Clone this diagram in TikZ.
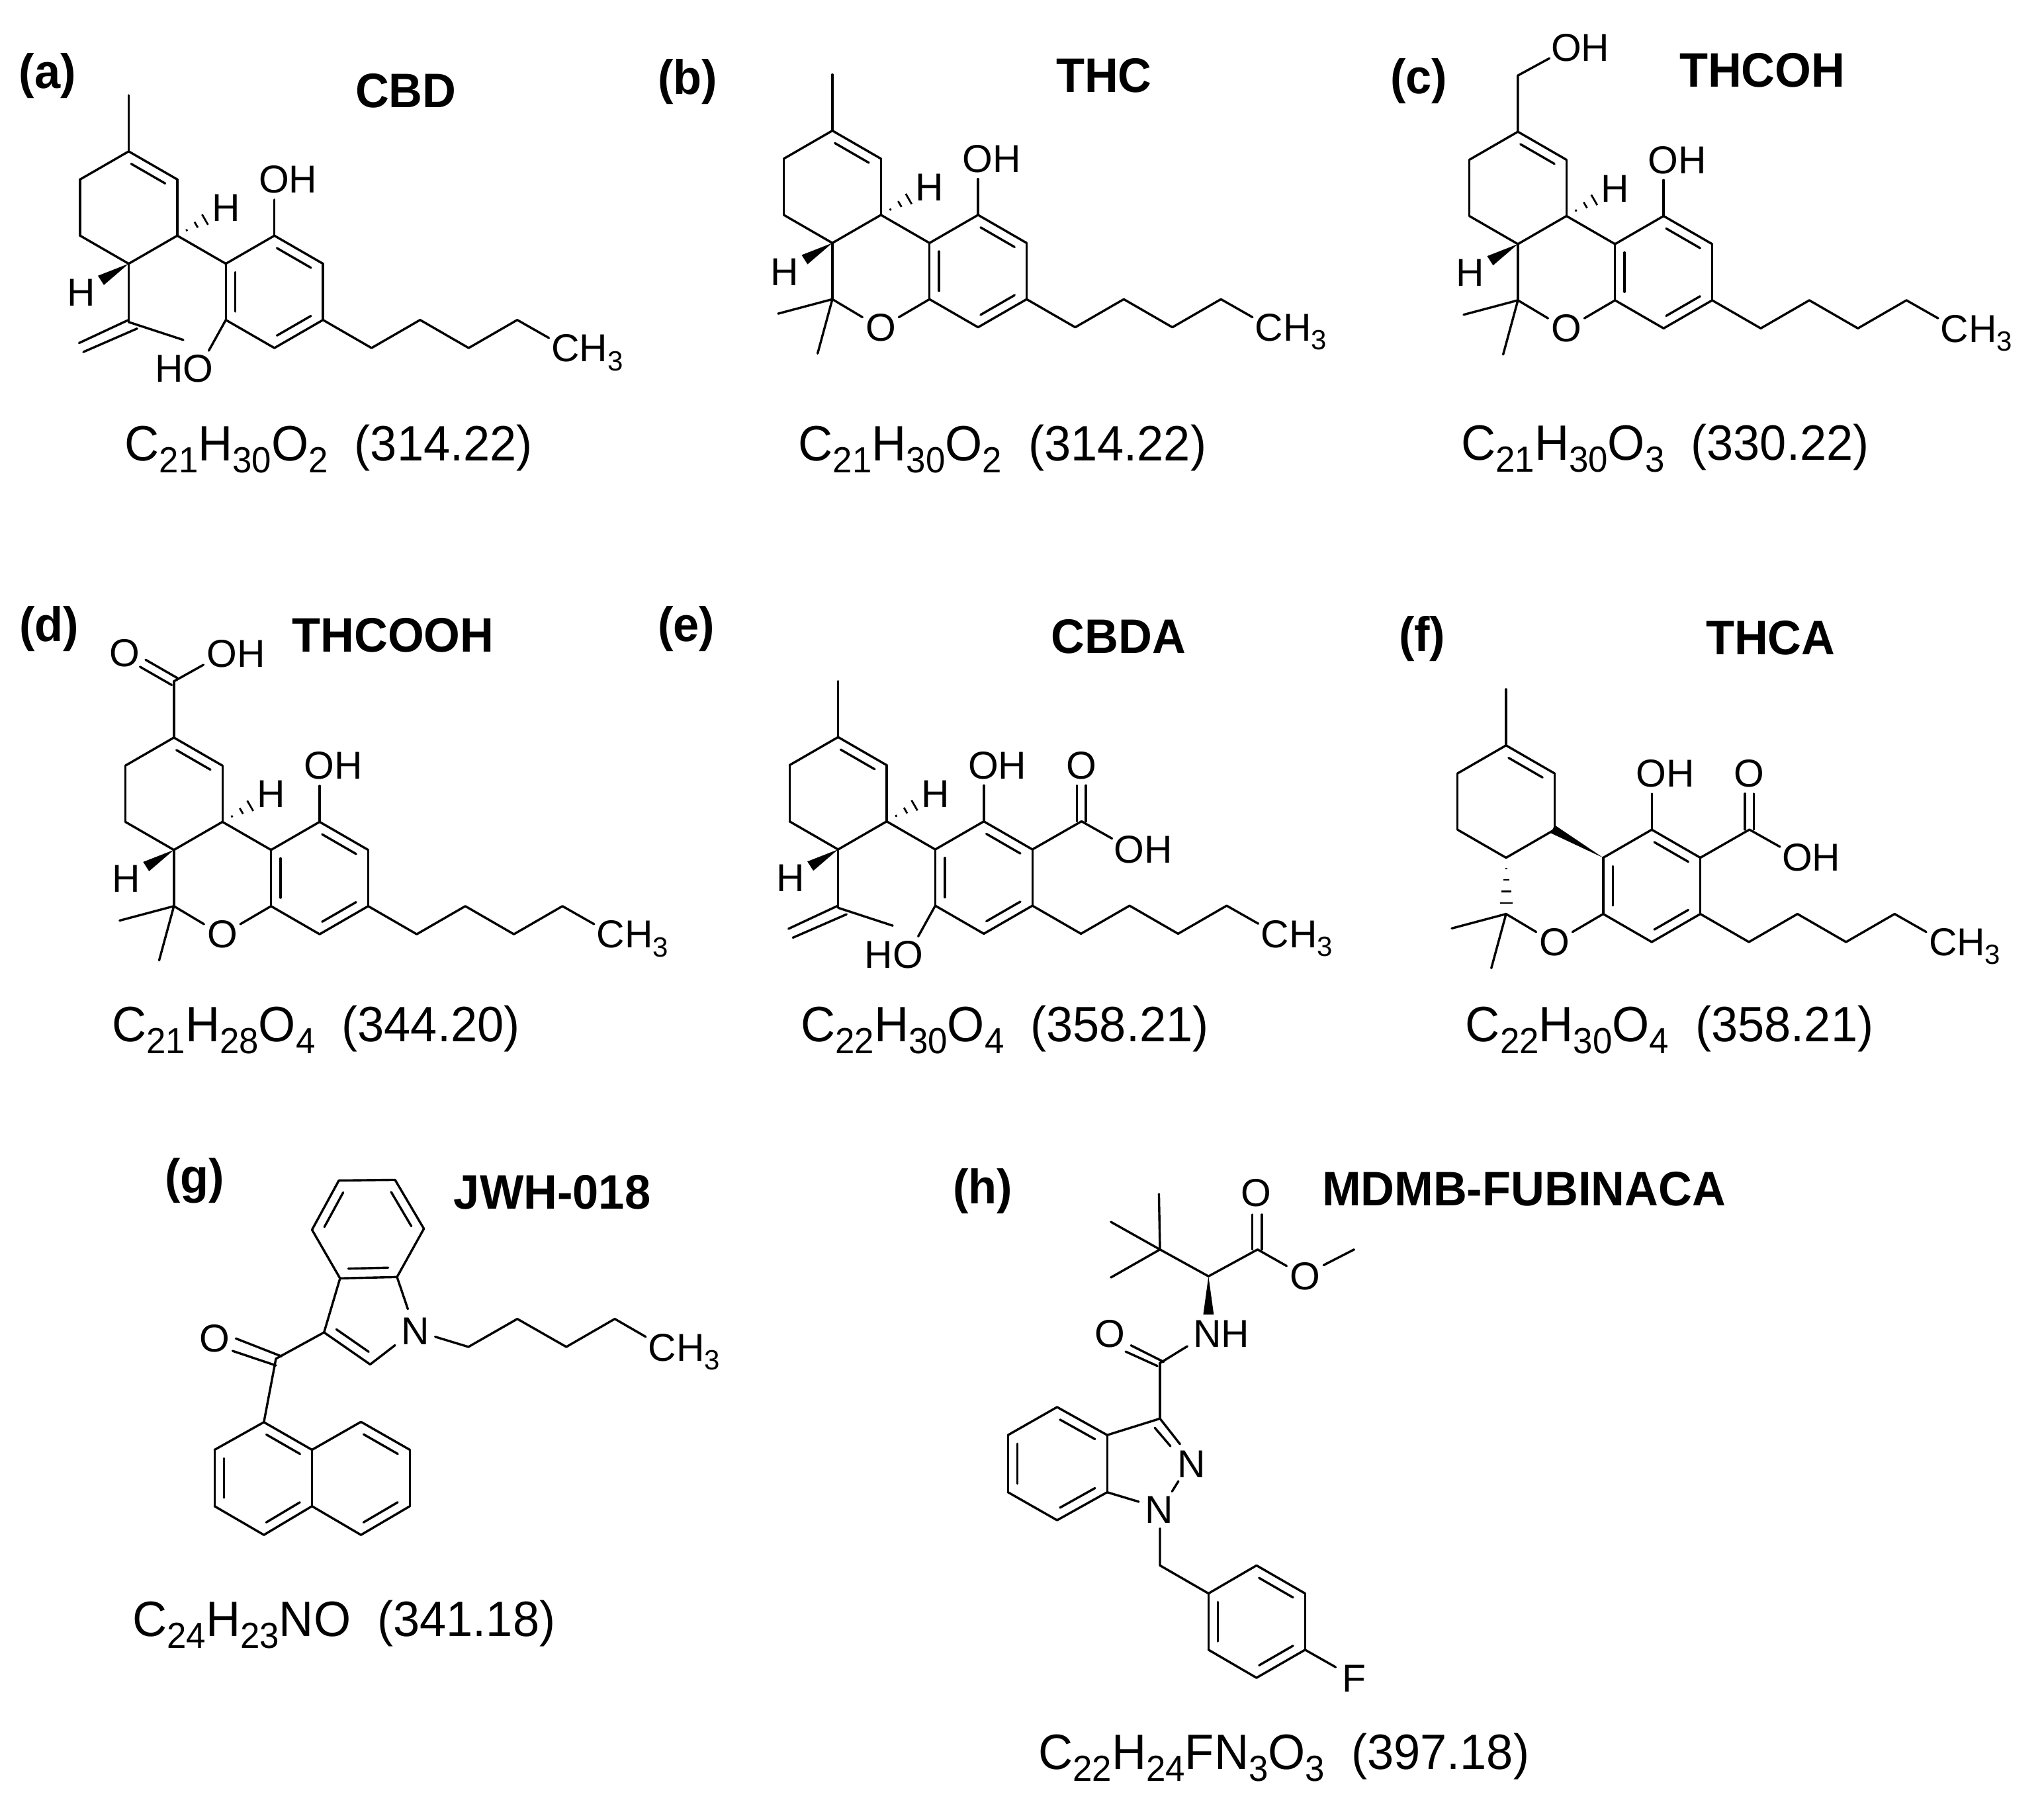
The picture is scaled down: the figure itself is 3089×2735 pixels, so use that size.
\documentclass[tikz,border=0pt]{standalone}
\usepackage{fontspec}
\usepackage{graphicx}
\setmainfont{Liberation Sans}
\usetikzlibrary{calc}
\tikzset{
  bond/.style={line width=0.85pt,line cap=round,line join=round,black},
  atom/.style={anchor=base west,inner sep=0pt,outer sep=0pt,xshift=-1pt,font=\fontsize{14.7}{15}\selectfont},
  atomc/.style={anchor=base,inner sep=0pt,outer sep=0pt,font=\fontsize{14.7}{15}\selectfont},
  formula/.style={anchor=base west,inner sep=0pt,outer sep=0pt,xshift=-0.7pt,font=\fontsize{18.05}{19}\selectfont},
  title/.style={anchor=base west,inner sep=0pt,outer sep=0pt,xshift=-0.5pt,font=\fontsize{17.6}{18}\selectfont\bfseries},
}
\newcommand\tall[1]{\scalebox{1}[1.04]{#1}}
\newcommand\sbs[1]{\raisebox{-4.5pt}{\fontsize{13.2}{14}\selectfont #1}}
\newcommand\sba[1]{\raisebox{-3.3pt}{\fontsize{10.5}{11}\selectfont #1}}
\newcommand\bd[2]{\draw[bond] (#1) -- (#2);}
\newcommand\db[2]{\draw[bond] (#1) -- (#2);
  \draw[bond] ($(#1)!0.15!(#2)!3.6pt!90:(#2)$) -- ($(#2)!0.15!(#1)!3.6pt!-90:(#1)$);}
\newcommand\hs[2]{\foreach \t/\w in {0.337/0.38pt,0.673/1.25pt,0.99/2.25pt}{
  \draw[line width=0.7pt,black] ($(#1)!\t!(#2)!\w!90:(#2)$) -- ($(#1)!\t!(#2)!\w!-90:(#2)$);}}
% cyclohexene ring
\newcommand\ringA[1]{
  \coordinate (#1r1) at (0,0);
  \coordinate (#1r2) at (73.4,42.4);
  \coordinate (#1r3) at (73.4,127.4);
  \coordinate (#1r4) at (0,169.8);
  \coordinate (#1r5) at (-73.4,127.4);
  \coordinate (#1r6) at (-73.4,42.4);
  \db{#1r2}{#1r1}
  \bd{#1r2}{#1r3}\bd{#1r3}{#1r4}\bd{#1r4}{#1r5}\bd{#1r5}{#1r6}\bd{#1r6}{#1r1}
}
% aromatic ring with pentyl chain
\newcommand\ringB[1]{
  \coordinate (#1s1) at (146.8,169.8);
  \coordinate (#1s2) at (220.2,127.4);
  \coordinate (#1s3) at (293.6,169.8);
  \coordinate (#1s4) at (293.6,254.8);
  \coordinate (#1s5) at (220.2,297.2);
  \coordinate (#1s6) at (146.8,254.8);
  \db{#1s3}{#1s2}\db{#1s1}{#1s6}\db{#1s5}{#1s4}
  \bd{#1s1}{#1s2}\bd{#1s3}{#1s4}\bd{#1s5}{#1s6}
  \coordinate (#1p1) at (367,297.2);
  \coordinate (#1p2) at (440.4,254.8);
  \coordinate (#1p3) at (513.8,297.2);
  \coordinate (#1p4) at (587.2,254.8);
  \coordinate (#1pe) at (635,282);
  \draw[bond] (#1s4) -- (#1p1) -- (#1p2) -- (#1p3) -- (#1p4) -- (#1pe);
  \node[atom] (#1ch) at (643,318) {CH\sba{3}};
  \coordinate (#1oe) at (220.2,73);
  \bd{#1s2}{#1oe}
  \node[atom] (#1oh) at (200.5,63) {OH};
}
% hydrogen stereo marks
\newcommand\stereoH[1]{
  \coordinate (#1hs) at (115.8,102.9);
  \hs{#1r3}{#1hs}
  \node[atom] (#1hu) at (130,106) {H};
  \coordinate (#1w1) at (-46.5,188);
  \coordinate (#1w2) at (-37.5,202);
  \fill[black] (#1r4) -- (#1w1) -- (#1w2) -- cycle;
  \node[atom] (#1hl) at (-89.5,233.5) {H};
}
% pyran ring with gem-dimethyl
\newcommand\pyran[1]{
  \coordinate (#1c6) at (0,254.8);
  \coordinate (#1m1) at (-82,276.6);
  \coordinate (#1m2) at (-22.3,336.8);
  \coordinate (#1o1) at (45.5,282);
  \coordinate (#1o2) at (100.4,282);
  \draw[bond] (#1m1) -- (#1c6) -- (#1m2);
  \bd{#1c6}{#1o1}\bd{#1s6}{#1o2}
  \node[atomc] (#1ox) at (73.4,317.5) {O};
}
% isopropenyl and HO for CBD type
\newcommand\cbdtype[1]{
  \coordinate (#1i) at (0,258);
  \coordinate (#1ie) at (82.5,285);
  \coordinate (#1u1) at (-1.3,255.3);
  \coordinate (#1u2) at (-75,289.7);
  \coordinate (#1l1) at (12.8,267.8);
  \coordinate (#1l2) at (-68.5,303.2);
  \bd{#1r4}{#1i}\bd{#1i}{#1ie}\bd{#1u1}{#1u2}\bd{#1l1}{#1l2}
  \bd{#1r3}{#1s1}
  \coordinate (#1he) at (121,301.3);
  \bd{#1s6}{#1he}
  \node[atom] (#1ho) at (44,349) {HO};
}
% COOH for acid types
\newcommand\acid[1]{
  \coordinate (#1k) at (367.8,127.3);
  \bd{#1s3}{#1k}
  \coordinate (#1a1) at (361.1,127.3);
  \coordinate (#1a2) at (361.1,73);
  \coordinate (#1b1) at (374.5,127.3);
  \coordinate (#1b2) at (374.5,73);
  \bd{#1a1}{#1a2}\bd{#1b1}{#1b2}
  \coordinate (#1ke) at (414,153.3);
  \bd{#1k}{#1ke}
  \node[atomc] (#1ko) at (367.8,63) {O};
  \node[atom] (#1koh) at (421,190) {OH};
}
\begin{document}
\begin{tikzpicture}[x=0.25pt,y=-0.25pt]
\useasboundingbox (0,0) rectangle (3089,2735);
\fill[white] (0,0) rectangle (3089,2735);

% ---------- (a) CBD
\node[title] (la) at (30.6,133.7) {\tall{(a)}};
\node[title] (ta) at (539,162.7) {\tall{CBD}};
\node[formula] (fa) at (191.3,696) {\tall{C\sbs{21}H\sbs{30}O\sbs{2}\ \ (314.22)}};
\begin{scope}[shift={(194.5,228.8)}]
  \ringA{a-}\ringB{a-}\stereoH{a-}\cbdtype{a-}
  \coordinate (a-me) at (0,-84.8);
  \bd{a-r1}{a-me}
\end{scope}

% ---------- (b) THC
\node[title] (lb) at (996,142.6) {\tall{(b)}};
\node[title] (tb) at (1598,139.5) {\tall{THC}};
\node[formula] (fb) at (1209.6,696) {\tall{C\sbs{21}H\sbs{30}O\sbs{2}\ \ (314.22)}};
\begin{scope}[shift={(1257.9,197.5)}]
  \ringA{b-}\ringB{b-}\stereoH{b-}\pyran{b-}
  \bd{b-r3}{b-s1}\bd{b-r4}{b-c6}
  \coordinate (b-me) at (0,-84.8);
  \bd{b-r1}{b-me}
\end{scope}

% ---------- (c) THCOH
\node[title] (lc) at (2103,141.7) {\tall{(c)}};
\node[title] (tc) at (2540,131.6) {\tall{THCOH}};
\node[formula] (fc) at (2211,695) {\tall{C\sbs{21}H\sbs{30}O\sbs{3}\ \ (330.22)}};
\begin{scope}[shift={(2293.9,199.1)}]
  \ringA{c-}\ringB{c-}\stereoH{c-}\pyran{c-}
  \bd{c-r3}{c-s1}\bd{c-r4}{c-c6}
  \coordinate (c-ch) at (0,-85);
  \coordinate (c-e) at (47.7,-111);
  \draw[bond] (c-r1) -- (c-ch) -- (c-e);
  \node[atom] (c-toh) at (54.3,-107) {OH};
\end{scope}

% ---------- (d) THCOOH
\node[title] (ld) at (31.5,969.8) {\tall{(d)}};
\node[title] (td) at (443.5,985.9) {\tall{THCOOH}};
\node[formula] (fd) at (172,1574) {\tall{C\sbs{21}H\sbs{28}O\sbs{4}\ \ (344.20)}};
\begin{scope}[shift={(262.8,1114.9)}]
  \ringA{d-}\ringB{d-}\stereoH{d-}\pyran{d-}
  \bd{d-r3}{d-s1}\bd{d-r4}{d-c6}
  \coordinate (d-k) at (0,-85);
  \coordinate (d-ke) at (44.7,-110);
  \coordinate (d-u1) at (-42.7,-117.6);
  \coordinate (d-u2) at (5.3,-90);
  \coordinate (d-l1) at (-51.2,-107);
  \coordinate (d-l2) at (-3.3,-79.5);
  \bd{d-r1}{d-k}\bd{d-k}{d-ke}\bd{d-u1}{d-u2}\bd{d-l1}{d-l2}
  \node[atomc] (d-ko) at (-74.2,-107) {O};
  \node[atom] (d-koh) at (53.9,-106) {OH};
\end{scope}

% ---------- (e) CBDA
\node[title] (le) at (996,969) {\tall{(e)}};
\node[title] (te) at (1590.8,987) {\tall{CBDA}};
\node[formula] (fe) at (1213,1574) {\tall{C\sbs{22}H\sbs{30}O\sbs{4}\ \ (358.21)}};
\begin{scope}[shift={(1266.6,1114.2)}]
  \ringA{e-}\ringB{e-}\stereoH{e-}\cbdtype{e-}\acid{e-}
  \coordinate (e-me) at (0,-84.8);
  \bd{e-r1}{e-me}
\end{scope}

% ---------- (f) THCA
\node[title] (lf) at (2116,984) {\tall{(f)}};
\node[title] (tf) at (2580,989) {\tall{THCA}};
\node[formula] (ff) at (2217.7,1574) {\tall{C\sbs{22}H\sbs{30}O\sbs{4}\ \ (358.21)}};
\begin{scope}[shift={(2276,1126.7)}]
  \ringA{f-}\ringB{f-}\pyran{f-}\acid{f-}
  \coordinate (f-me) at (0,-84.8);
  \bd{f-r1}{f-me}
  \coordinate (f-w1) at (73.5,120.5);
  \coordinate (f-w2) at (67.6,132.6);
  \fill[black] (f-s1) -- (f-w1) -- (f-w2) -- cycle;
  \foreach \yy/\ww in {186.2/1.5,203.1/4.5,221/7.5,238.4/9.5}{
    \draw[line width=0.65pt,black] (-\ww,\yy) -- (\ww,\yy);
  }
\end{scope}

% ---------- (g) JWH-018
\node[title] (lg) at (251.5,1803.8) {\tall{(g)}};
\node[title] (tg) at (687.9,1827.8) {\tall{JWH-018}};
\node[formula] (fg) at (203,2473) {\tall{C\sbs{24}H\sbs{23}NO\ \ (341.18)}};
\coordinate (g1) at (512.1,1784.4);
\coordinate (g2) at (597,1783.4);
\coordinate (g3) at (640.6,1857.3);
\coordinate (g4) at (600,1930.3);
\coordinate (g5) at (513.9,1932.3);
\coordinate (g6) at (471.5,1858.9);
\db{g1}{g6}\db{g5}{g4}\db{g3}{g2}
\bd{g1}{g2}\bd{g3}{g4}\bd{g5}{g6}
\coordinate (gc3) at (489.7,2014);
\coordinate (gc2) at (559.4,2062.4);
\coordinate (gn1) at (597,2033.4);
\coordinate (gn2) at (616.4,1978.8);
\bd{g5}{gc3}\db{gc3}{gc2}\bd{gc2}{gn1}\bd{g4}{gn2}
\node[atom] (gn) at (610.9,2032.3) {N};
\coordinate (gp0) at (657.6,2020.6);
\coordinate (gp1) at (707.9,2035.9);
\coordinate (gp2) at (781.8,1993.6);
\coordinate (gp3) at (855.8,2035.9);
\coordinate (gp4) at (929.1,1993.6);
\coordinate (gp5) at (975.8,2020.6);
\draw[bond] (gp0) -- (gp1) -- (gp2) -- (gp3) -- (gp4) -- (gp5);
\node[atom] (gch) at (983.6,2057.3) {CH\sba{3}};
\coordinate (gk) at (417,2053.8);
\coordinate (gk1) at (356.4,2023.2);
\coordinate (gk2) at (425.5,2050.2);
\coordinate (gk3) at (351.5,2042);
\coordinate (gk4) at (417,2064);
\coordinate (n1) at (398.8,2149.7);
\bd{gc3}{gk}\bd{gk}{n1}\bd{gk1}{gk2}\bd{gk3}{gk4}
\node[atomc] (gko) at (324.2,2043.6) {O};
\coordinate (n2) at (471.5,2191.5);
\coordinate (n3) at (545.5,2149.2);
\coordinate (n4) at (619.4,2191.5);
\coordinate (n5) at (619.4,2276.7);
\coordinate (n6) at (545.5,2320.1);
\coordinate (n7) at (471.5,2276.7);
\coordinate (n8) at (398.8,2320.1);
\coordinate (n9) at (324.2,2276.7);
\coordinate (n10) at (324.2,2191.5);
\db{n2}{n1}\db{n10}{n9}\db{n8}{n7}\db{n4}{n3}\db{n6}{n5}
\bd{n2}{n3}\bd{n4}{n5}\bd{n6}{n7}\bd{n7}{n2}\bd{n8}{n9}\bd{n10}{n1}

% ---------- (h) MDMB-FUBINACA
\node[title] (lh) at (1442,1819) {\tall{(h)}};
\node[title] (th) at (2000,1822) {\tall{MDMB-FUBINACA}};
\node[formula] (fh) at (1572,2674) {\tall{C\sbs{22}H\sbs{24}FN\sbs{3}O\sbs{3}\ \ (397.18)}};
\coordinate (ht) at (1753,1888.7);
\coordinate (hm1) at (1751.4,1804.8);
\coordinate (hm2) at (1678.8,1847);
\coordinate (hm3) at (1678.8,1931);
\coordinate (hch) at (1826.3,1929.2);
\coordinate (hes) at (1900.5,1888.7);
\bd{ht}{hm1}\bd{ht}{hm2}\bd{ht}{hm3}\bd{ht}{hch}\bd{hch}{hes}
\coordinate (he1) at (1892.5,1888.7);
\coordinate (he2) at (1892.5,1835.9);
\coordinate (he3) at (1906.9,1888.7);
\coordinate (he4) at (1906.9,1835.9);
\bd{he1}{he2}\bd{he3}{he4}
\node[atomc] (heo) at (1898,1823.4) {O};
\coordinate (he5) at (1944.4,1913.6);
\bd{hes}{he5}
\node[atomc] (heo2) at (1972,1949.7) {O};
\coordinate (he6) at (2000.2,1912.4);
\coordinate (he7) at (2046.4,1888.7);
\bd{he6}{he7}
\coordinate (hw1) at (1818.4,1987);
\coordinate (hw2) at (1834.3,1987);
\fill[black] (hch) -- (hw1) -- (hw2) -- cycle;
\node[atom] (hnh) at (1807.2,2036.7) {NH};
\coordinate (ham) at (1753,2060.4);
\coordinate (ham1) at (1794.4,2034.9);
\bd{ham}{ham1}
\node[atomc] (hao) at (1677.2,2036.7) {O};
\coordinate (ha1) at (1709.1,2033.6);
\coordinate (ha2) at (1758.5,2058.5);
\coordinate (ha3) at (1701.1,2043);
\coordinate (ha4) at (1749,2064.7);
\bd{ha1}{ha2}\bd{ha3}{ha4}
\coordinate (hc3) at (1753,2144.3);
\bd{ham}{hc3}
\coordinate (hn1) at (1783.3,2182.9);
\coordinate (hn2) at (1745,2158);
\coordinate (hn3) at (1768.9,2186);
\bd{hc3}{hn1}\bd{hn2}{hn3}
\node[atomc] (hn) at (1800.8,2233.9) {N};
\coordinate (hn4) at (1780.9,2238.9);
\coordinate (hn5) at (1771.3,2254.4);
\bd{hn4}{hn5}
\node[atomc] (hnn) at (1751.4,2302.3) {N};
\coordinate (h7a) at (1673.2,2255.6);
\coordinate (h3a) at (1673.2,2169.2);
\coordinate (hb1) at (1597.5,2126.9);
\coordinate (hb2) at (1523.3,2169.2);
\coordinate (hb3) at (1523.3,2255.6);
\coordinate (hb4) at (1597.5,2297.9);
\coordinate (hn6) at (1721,2270);
\bd{h7a}{hn6}\bd{hc3}{h3a}
\db{h3a}{hb1}\db{hb2}{hb3}\db{hb4}{h7a}
\bd{hb1}{hb2}\bd{hb3}{hb4}\bd{h7a}{h3a}
\coordinate (hn7) at (1753,2310.4);
\coordinate (hbz) at (1753,2366.3);
\coordinate (hr1) at (1826.3,2408.6);
\coordinate (hr2) at (1898.9,2366.3);
\coordinate (hr3) at (1972.3,2408.6);
\coordinate (hr4) at (1972.3,2493.8);
\coordinate (hr5) at (1898.9,2536.1);
\coordinate (hr6) at (1826.3,2493.8);
\draw[bond] (hn7) -- (hbz) -- (hr1);
\db{hr3}{hr2}\db{hr1}{hr6}\db{hr5}{hr4}
\bd{hr2}{hr1}\bd{hr6}{hr5}\bd{hr4}{hr3}
\coordinate (hf) at (2018.5,2520);
\bd{hr4}{hf}
\node[atom] (hff) at (2032,2557.3) {F};
\end{tikzpicture}
\end{document}
